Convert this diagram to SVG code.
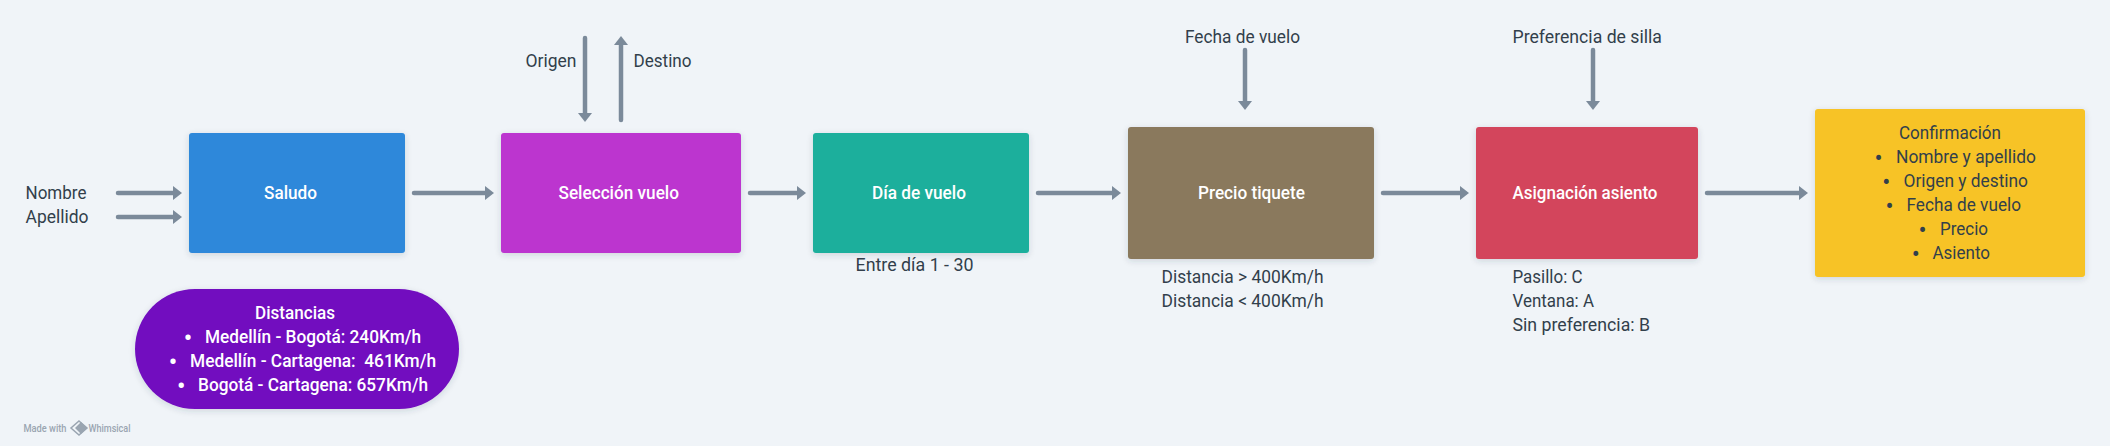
<svg xmlns="http://www.w3.org/2000/svg" width="2110" height="446" viewBox="0 0 2110 446">
<style>
text{font-family:Roboto,"Noto Sans","Liberation Sans",sans-serif;font-size:18.5px;fill:#323f4b}
.w{fill:#fff;font-weight:500}
.d{font-size:24px;text-anchor:middle}
.b{filter:url(#s)}
.c path{fill:none;stroke:#7b8a9a;stroke-width:4.5;stroke-linecap:round;marker-end:url(#a)}
.m{font-size:11px;font-weight:500;fill:#9aa5b1}
</style>
<defs>
<filter id="s" x="-10%" y="-10%" width="120%" height="125%"><feDropShadow dx="0" dy="2" stdDeviation="3" flood-color="#323f4b" flood-opacity=".16"/></filter>
<marker id="a" markerUnits="userSpaceOnUse" markerWidth="12" markerHeight="14" refX="3" refY="7" orient="auto"><path d="M0,0 L9,7 L0,14z" fill="#7b8a9a"/></marker>
</defs>
<rect width="2110" height="446" fill="#f0f4f8"/>
<g id="connectors" class="c">
<path d="M118,193H176"/><path d="M118,217H176"/><path d="M414,193H488"/>
<path d="M585,38V116"/><path d="M621,120V42"/>
<path d="M750,193H800"/><path d="M1038,193H1115"/><path d="M1383,193H1463"/><path d="M1707,193H1802"/>
<path d="M1245,50V104"/><path d="M1593,50V104"/>
</g>
<g id="label-nombre"><text x="25.5" y="199" textLength="61" lengthAdjust="spacingAndGlyphs">Nombre</text></g>
<g id="label-apellido"><text x="25.5" y="223" textLength="63" lengthAdjust="spacingAndGlyphs">Apellido</text></g>
<g id="saludo"><rect class="b" x="189" y="133" width="216" height="120" rx="3" fill="#2e88da"/><text class="w" x="264" y="199" textLength="53" lengthAdjust="spacingAndGlyphs">Saludo</text></g>
<g id="distancias"><rect class="b" x="135" y="289" width="324" height="120" rx="60" fill="#7210bf"/>
<text class="w" x="255" y="319" textLength="80" lengthAdjust="spacingAndGlyphs">Distancias</text>
<text class="w d" x="188" y="345.5">•</text><text class="w" x="205" y="343" textLength="216" lengthAdjust="spacingAndGlyphs">Medellín - Bogotá: 240Km/h</text>
<text class="w d" x="173" y="369.5">•</text><text class="w" x="190" y="367" textLength="246" lengthAdjust="spacingAndGlyphs" xml:space="preserve">Medellín - Cartagena:  461Km/h</text>
<text class="w d" x="181.3" y="393.5">•</text><text class="w" x="198" y="391" textLength="230" lengthAdjust="spacingAndGlyphs">Bogotá - Cartagena: 657Km/h</text></g>
<g id="label-origen"><text x="525.5" y="67" textLength="51" lengthAdjust="spacingAndGlyphs">Origen</text></g>
<g id="label-destino"><text x="633.5" y="67" textLength="58" lengthAdjust="spacingAndGlyphs">Destino</text></g>
<g id="seleccion"><rect class="b" x="501" y="133" width="240" height="120" rx="3" fill="#bc34cf"/><text class="w" x="558.5" y="199" textLength="120.5" lengthAdjust="spacingAndGlyphs">Selección vuelo</text></g>
<g id="dia"><rect class="b" x="813" y="133" width="216" height="120" rx="3" fill="#1aaf9c"/><text class="w" x="872" y="199" textLength="94" lengthAdjust="spacingAndGlyphs">Día de vuelo</text></g>
<g id="label-entre"><text x="855.5" y="271" textLength="118" lengthAdjust="spacingAndGlyphs">Entre día 1 - 30</text></g>
<g id="label-fecha"><text x="1185" y="43" textLength="115" lengthAdjust="spacingAndGlyphs">Fecha de vuelo</text></g>
<g id="precio"><rect class="b" x="1128" y="127" width="246" height="132" rx="3" fill="#8a795d"/><text class="w" x="1198" y="199" textLength="107" lengthAdjust="spacingAndGlyphs">Precio tiquete</text></g>
<g id="label-distancia"><text x="1161.5" y="283" textLength="162" lengthAdjust="spacingAndGlyphs">Distancia &gt; 400Km/h</text><text x="1161.5" y="307" textLength="162" lengthAdjust="spacingAndGlyphs">Distancia &lt; 400Km/h</text></g>
<g id="label-preferencia"><text x="1512.5" y="43" textLength="149.5" lengthAdjust="spacingAndGlyphs">Preferencia de silla</text></g>
<g id="asignacion"><rect class="b" x="1476" y="127" width="222" height="132" rx="3" fill="#d3455b"/><text class="w" x="1512.5" y="199" textLength="145" lengthAdjust="spacingAndGlyphs">Asignación asiento</text></g>
<g id="label-asientos"><text x="1512.5" y="283" textLength="70" lengthAdjust="spacingAndGlyphs">Pasillo: C</text><text x="1512.5" y="307" textLength="81.5" lengthAdjust="spacingAndGlyphs">Ventana: A</text><text x="1512.5" y="331" textLength="137.5" lengthAdjust="spacingAndGlyphs">Sin preferencia: B</text></g>
<g id="confirmacion"><rect class="b" x="1815" y="109" width="270" height="168" rx="3" fill="#f7c325"/>
<text x="1899" y="139" textLength="102" lengthAdjust="spacingAndGlyphs">Confirmación</text>
<text class="d" x="1878.6" y="165.5">•</text><text x="1896" y="163" textLength="140" lengthAdjust="spacingAndGlyphs">Nombre y apellido</text>
<text class="d" x="1886.4" y="189.5">•</text><text x="1903.5" y="187" textLength="124.5" lengthAdjust="spacingAndGlyphs">Origen y destino</text>
<text class="d" x="1889.5" y="213.5">•</text><text x="1906.5" y="211" textLength="114.5" lengthAdjust="spacingAndGlyphs">Fecha de vuelo</text>
<text class="d" x="1922.6" y="237.5">•</text><text x="1940" y="235" textLength="48" lengthAdjust="spacingAndGlyphs">Precio</text>
<text class="d" x="1915.8" y="261.5">•</text><text x="1932.5" y="259" textLength="57.5" lengthAdjust="spacingAndGlyphs">Asiento</text></g>
<g id="watermark"><text class="m" x="23.5" y="432" textLength="43" lengthAdjust="spacingAndGlyphs">Made with</text>
<path d="M79,421 L87,428 L79,435 L71,428z" fill="none" stroke="#9aa5b1" stroke-width="1.5"/><path d="M81,422 L87,428 L81,434 L75,428z" fill="#9aa5b1"/>
<text class="m" x="88.5" y="432" textLength="42" lengthAdjust="spacingAndGlyphs">Whimsical</text></g>
</svg>
